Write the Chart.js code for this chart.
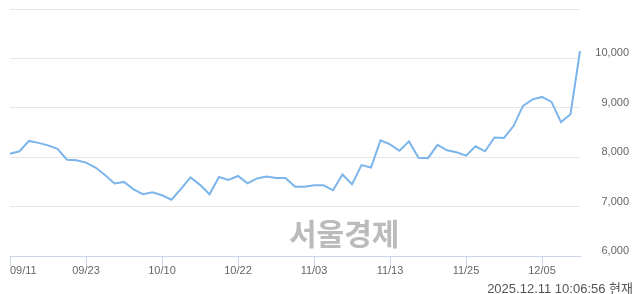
<!DOCTYPE html>
<html>
<head>
<meta charset="utf-8">
<script src="https://cdn.jsdelivr.net/npm/chart.js@4/dist/chart.umd.min.js"></script>
<style>
  body { margin: 0; background: #fff; }
  #wrap { position: relative; width: 640px; height: 294px; }
  canvas { display: block; }
  #stamp {
    position: absolute; right: 7px; top: 278px;
    font: 13px "Liberation Sans", "Noto Sans CJK KR", sans-serif; color: #555;
  }
  #mark {
    position: absolute; left: 289px; top: 210px;
    font: bold 30px "Noto Sans CJK KR", sans-serif; color: #bbb;
  }
</style>
</head>
<body>
<div id="wrap">
  <canvas id="chart" width="640" height="294"></canvas>
  <div id="mark">서울경제</div>
  <div id="stamp">2025.12.11 10:06:56 현재</div>
</div>
<script>
// 거래일 (09/11 ~ 12/11)
const dates = [
  "09/11", "09/12", "09/15", "09/16", "09/17", "09/18", "09/19", "09/22", "09/23", "09/24",
  "09/25", "09/26", "09/29", "09/30", "10/01", "10/02", "10/10", "10/13", "10/14", "10/15",
  "10/16", "10/17", "10/20", "10/21", "10/22", "10/23", "10/24", "10/27", "10/28", "10/29",
  "10/30", "10/31", "11/03", "11/04", "11/05", "11/06", "11/07", "11/10", "11/11", "11/12",
  "11/13", "11/14", "11/17", "11/18", "11/19", "11/20", "11/21", "11/24", "11/25", "11/26",
  "11/27", "11/28", "12/01", "12/02", "12/03", "12/04", "12/05", "12/08", "12/09", "12/10",
  "12/11"
];

// 종가
const prices = [
  8070, 8120, 8330, 8290, 8240, 8170, 7950, 7940, 7890, 7790,
  7640, 7470, 7500, 7350, 7250, 7290, 7230, 7140, 7360, 7590,
  7440, 7250, 7600, 7540, 7620, 7470, 7570, 7610, 7580, 7580,
  7400, 7400, 7430, 7430, 7330, 7650, 7450, 7840, 7790, 8340,
  8260, 8130, 8320, 7990, 7980, 8250, 8140, 8100, 8030, 8220,
  8120, 8400, 8390, 8630, 9040, 9170, 9220, 9120, 8710, 8870,
  10150
];

const yTicks = [6000, 7000, 8000, 9000, 10000, 11000];
const labelEvery = 8;

// x축 날짜 라벨 (첫 라벨은 플롯 안쪽으로 밀어줌)
const dateLabels = {
  id: "dateLabels",
  afterDraw(chart) {
    const ctx = chart.ctx;
    const x = chart.scales.x;
    ctx.save();
    ctx.font = "11px 'Liberation Sans', sans-serif";
    ctx.fillStyle = "#666";
    ctx.textBaseline = "middle";
    ctx.textAlign = "center";
    dates.forEach((d, i) => {
      if (i % labelEvery !== 0) return;
      const w = ctx.measureText(d).width;
      let px = x.getPixelForValue(i);
      px = Math.max(px, chart.chartArea.left + w / 2);
      ctx.fillText(d, px, x.top + 15);
    });
    ctx.restore();
  }
};

new Chart(document.getElementById("chart"), {
  type: "line",
  data: {
    labels: dates,
    datasets: [{
      data: prices,
      borderColor: "#7cb5ec",
      borderWidth: 2,
      pointRadius: 0,
      tension: 0,
      fill: false
    }]
  },
  options: {
    responsive: false,
    animation: false,
    layout: { padding: { left: 10, top: 9, right: 11, bottom: 0 } },
    plugins: { legend: { display: false }, tooltip: { enabled: false } },
    scales: {
      x: {
        ticks: { display: false, autoSkip: false },
        grid: {
          drawOnChartArea: false,
          drawTicks: true,
          tickLength: 10,
          color: (c) => (c.index % labelEvery === 0 ? "#ccd6eb" : "transparent")
        },
        border: { color: "#ccd6eb", width: 1 },
        afterFit: (s) => { s.height = 38; s.paddingLeft = 0; s.paddingRight = 0; }
      },
      y: {
        position: "right",
        min: 6000,
        max: 11000,
        afterBuildTicks: (s) => { s.ticks = yTicks.map((v) => ({ value: v })); },
        ticks: {
          padding: 5,
          crossAlign: "far",
          labelOffset: -5,
          color: "#666",
          font: { family: "'Liberation Sans', sans-serif", size: 11 },
          callback: (v) => (v === 11000 ? "" : v.toLocaleString("en-US"))
        },
        grid: { color: "#e6e6e6", drawTicks: false },
        border: { display: false },
        afterFit: (s) => { s.width = 49; s.paddingTop = 0; s.paddingBottom = 0; }
      }
    }
  },
  plugins: [dateLabels]
});
</script>
</body>
</html>
